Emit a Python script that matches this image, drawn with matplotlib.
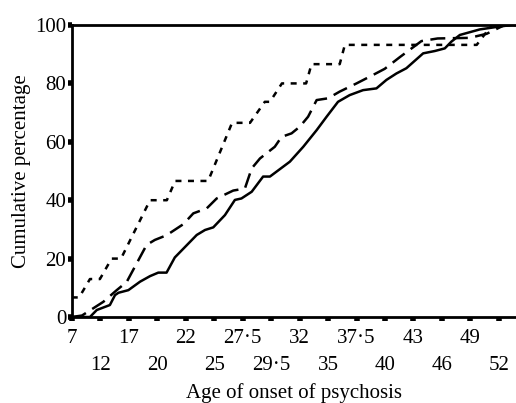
import matplotlib
matplotlib.use("Agg")
import matplotlib.pyplot as plt
from matplotlib.ticker import FixedLocator

plt.rcParams['font.family'] = ['Liberation Serif', 'DejaVu Serif']

# x positions are in tick-slot units (0 = age 7, 1 = age 12, ...)
age_labels = ['7', '12', '17', '20', '22', '25', '27·5', '29·5',
              '32', '35', '37·5', '40', '43', '46', '49', '52']

# solid curve
solid_x = [0, 0.64, 0.88, 1.34, 1.52, 1.64, 1.99, 2.40, 2.75, 3.04, 3.33,
           3.62, 4.39, 4.68, 4.97, 5.38, 5.73, 5.96, 6.32, 6.72, 6.96,
           7.66, 8.13, 8.60, 8.95, 9.35, 9.76, 10.23, 10.70, 11.05, 11.40,
           11.75, 12.34, 12.75, 13.10, 13.33, 13.63, 14.33, 15.03, 15.45, 15.6]
solid_y = [0, 0, 2.4, 4.1, 7.5, 8.3, 9.2, 12.1, 14, 15.2, 15.2,
           20.4, 28.1, 29.8, 30.7, 34.9, 40.1, 40.6, 42.9, 48.1, 48.1,
           53.2, 58.3, 64, 68.6, 73.7, 76, 77.7, 78.3, 81.2, 83.4,
           85.2, 90.3, 91.1, 92, 94.3, 96.6, 98.5, 99.5, 100, 100]

# long dashed curve
long_x = [0, 0.36, 1.11, 1.58, 1.93, 2.63, 2.92, 3.33, 3.92, 4.27, 4.74,
          5.09, 5.67, 6.08, 6.32, 6.61, 7.13, 7.37, 7.72, 8.01, 8.30,
          8.60, 9.00, 9.41, 10.0, 10.58, 10.99, 11.52, 12.28, 12.85,
          13.97, 14.57, 15.2, 15.6]
long_y = [0, 0.5, 5.2, 9.2, 12, 24.7, 26.4, 28, 31.8, 35.5, 37.2,
          40.6, 43.3, 44, 50.9, 54.3, 58.3, 61.7, 62.9, 65.2, 68.6,
          74.3, 74.9, 77.2, 80, 82.9, 85, 89, 94.5, 95.4,
          95.6, 97, 100, 100]

# short dashed curve
short_x = [0, 0.26, 0.64, 0.99, 1.40, 1.73, 2.75, 3.34, 3.63, 4.79, 5.63,
           6.26, 6.78, 6.96, 7.38, 8.23, 8.42, 9.41, 9.59, 14.22, 14.75, 15.6]
short_y = [6.7, 6.7, 13, 13, 20, 20, 40, 40, 46.6, 46.6, 66.5,
           66.5, 73.7, 73.7, 80, 80, 86.6, 86.6, 93.2, 93.2, 100, 100]

fig = plt.figure(figsize=(5.16, 4.03), dpi=100)
ax = fig.add_axes([0.139, 0.2134, 0.861, 0.7245])

ax.plot(solid_x, solid_y, color='black', lw=1.8, solid_joinstyle='round')
ax.plot(long_x, long_y, color='black', lw=1.8, dashes=(6, 3))
ax.plot(short_x, short_y, color='black', lw=1.8, dashes=(2.4, 2.6))

ax.set_xlim(0, 15.6)
ax.set_ylim(0, 100)

ax.spines['right'].set_visible(False)
for s in ['left', 'bottom', 'top']:
    ax.spines[s].set_linewidth(2)

ax.set_yticks([0, 20, 40, 60, 80, 100])
ax.tick_params(axis='y', direction='out', length=3, width=4, pad=1,
               labelsize=15)

even = list(range(0, 16, 2))
odd = list(range(1, 16, 2))
ax.xaxis.set_major_locator(FixedLocator(even))
ax.xaxis.set_minor_locator(FixedLocator(odd))
ax.set_xticklabels([age_labels[i] for i in even])
ax.set_xticklabels([age_labels[i] for i in odd], minor=True)
ax.tick_params(axis='x', which='major', direction='out', length=3, width=4,
               pad=6, labelsize=15)
ax.tick_params(axis='x', which='minor', direction='out', length=3, width=4,
               pad=25, labelsize=15)

ax.set_xlabel('Age of onset of psychosis', fontsize=15, labelpad=6)
ax.set_ylabel('Cumulative percentage', fontsize=15, labelpad=3)

fig.savefig('out.png', dpi=100)
